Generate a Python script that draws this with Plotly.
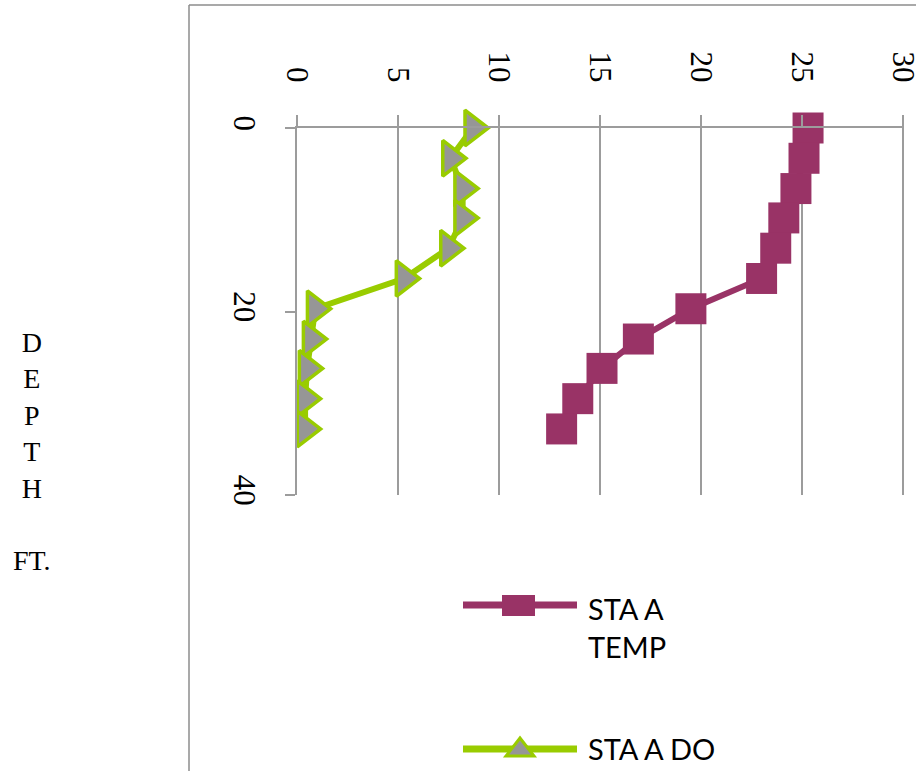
import plotly.graph_objects as go

# Depth profile at station A
depth_ft = [0, 3.3, 6.6, 9.8, 13.1, 16.4, 19.7, 23.0, 26.2, 29.5, 32.8]
temp_c = [25.3, 25.1, 24.7, 24.1, 23.7, 23.0, 19.5, 16.9, 15.1, 13.9, 13.1]
do_mg_l = [8.7, 7.6, 8.2, 8.2, 7.5, 5.3, 0.9, 0.7, 0.5, 0.4, 0.4]

value_ticks = [0, 5, 10, 15, 20, 25, 30]
depth_ticks = [0, 20, 40]

TEMP_COLOR = "#993366"
DO_COLOR = "#99CC00"
MARKER_GRAY = "#969696"
GRID = "#9c9c9c"

W, H = 916, 771
L, R, T, B = 297, 12, 128, 276
PW, PH = W - L - R, H - T - B


def px(xp):
    return (xp - L) / PW


def py(yp):
    return 1 - (yp - T) / PH


fig = go.Figure()

fig.add_trace(go.Scatter(
    x=temp_c, y=depth_ft, mode="lines+markers", name="STA A TEMP",
    line=dict(color=TEMP_COLOR, width=6),
    marker=dict(symbol="square", size=31, color=TEMP_COLOR),
    cliponaxis=False, showlegend=False,
))
fig.add_trace(go.Scatter(
    x=do_mg_l, y=depth_ft, mode="lines+markers", name="STA A DO",
    line=dict(color=DO_COLOR, width=6),
    marker=dict(symbol="triangle-right", size=31, color=MARKER_GRAY,
                line=dict(color=DO_COLOR, width=3.5)),
    cliponaxis=False, showlegend=False,
))

serif = dict(family="Liberation Serif, Times New Roman, serif", size=31, color="black")

fig.update_xaxes(
    side="top", range=[0, 30.05], tickvals=value_ticks, tickangle=90,
    showgrid=True, gridcolor=GRID, gridwidth=1.5,
    showline=True, linecolor=GRID, linewidth=1.5,
    ticks="outside", ticklen=11, tickcolor=GRID, tickwidth=1.5,
    tickfont=serif, ticklabelstandoff=22, ticklabeloverflow="allow",
    automargin=False, zeroline=False,
)
fig.update_yaxes(
    range=[40, 0], tickvals=depth_ticks, tickangle=90,
    showgrid=False, showline=True, linecolor=GRID, linewidth=1.5,
    ticks="outside", ticklen=10, tickcolor=GRID, tickwidth=1.5,
    tickfont=serif, ticklabelstandoff=14, ticklabeloverflow="allow",
    automargin=False, zeroline=False,
)

shapes = [
    # chart frame (top and left edges)
    dict(type="line", xref="paper", yref="paper", x0=px(189), x1=px(W + 5), y0=py(5), y1=py(5),
         line=dict(color="#8c8c8c", width=1.5)),
    dict(type="line", xref="paper", yref="paper", x0=px(189), x1=px(189), y0=py(5), y1=py(H + 5),
         line=dict(color="#8c8c8c", width=1.5)),
    # legend keys
    dict(type="line", xref="paper", yref="paper", x0=px(463), x1=px(577), y0=py(605), y1=py(605),
         line=dict(color=TEMP_COLOR, width=7)),
    dict(type="rect", xref="paper", yref="paper", x0=px(502), x1=px(535), y0=py(595), y1=py(616),
         fillcolor=TEMP_COLOR, line=dict(width=0)),
    dict(type="line", xref="paper", yref="paper", x0=px(463), x1=px(577), y0=py(749), y1=py(749),
         line=dict(color=DO_COLOR, width=7)),
    dict(type="path", xref="paper", yref="paper",
         path=f"M {px(506)},{py(756)} L {px(534)},{py(756)} L {px(520)},{py(738)} Z",
         fillcolor=MARKER_GRAY, line=dict(color=DO_COLOR, width=3)),
]

legend_font = dict(family="Lato, Open Sans, sans-serif", size=29, color="black")
annotations = [
    dict(text="D<br>E<br>P<br>T<br>H<br><br>FT.", xref="paper", yref="paper",
         x=px(32), y=py(451), xanchor="center", yanchor="middle", showarrow=False,
         font=dict(family="Liberation Serif, Times New Roman, serif", size=28, color="black")),
    dict(text="STA A<br>TEMP", xref="paper", yref="paper", x=px(586), y=py(627),
         xanchor="left", yanchor="middle", align="left", showarrow=False, font=legend_font),
    dict(text="STA A DO", xref="paper", yref="paper", x=px(586), y=py(748),
         xanchor="left", yanchor="middle", align="left", showarrow=False, font=legend_font),
]

fig.update_layout(
    width=W, height=H, margin=dict(l=L, r=R, t=T, b=B, autoexpand=False),
    paper_bgcolor="white", plot_bgcolor="white",
    shapes=shapes, annotations=annotations, showlegend=False,
)

fig.write_html("out.html")
